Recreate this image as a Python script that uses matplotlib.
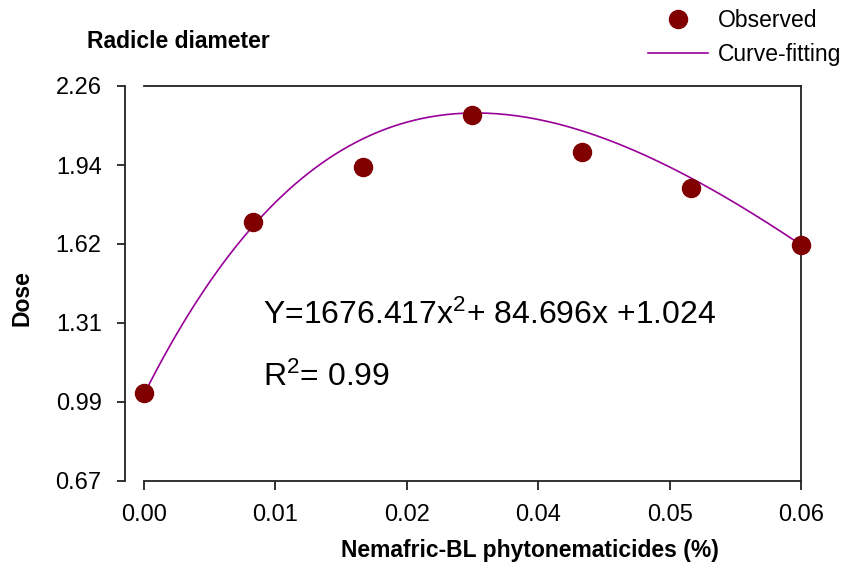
import numpy as np
import matplotlib
matplotlib.use("Agg")
import matplotlib.pyplot as plt
from matplotlib.lines import Line2D

plt.rcParams['font.family'] = ['Liberation Sans', 'DejaVu Sans']
plt.rcParams['mathtext.fontset'] = 'custom'
plt.rcParams['mathtext.rm'] = 'Liberation Sans'
plt.rcParams['mathtext.it'] = 'Liberation Sans'

# observed means
dose = [0.0, 0.01, 0.02, 0.03, 0.04, 0.05, 0.06]
observed = [1.024, 1.713, 1.934, 2.143, 1.994, 1.849, 1.620]

# samples
curve_x = [0.0, 0.005, 0.01, 0.0143, 0.02, 0.025, 0.031, 0.038, 0.045, 0.05, 0.055, 0.06]
curve_y = [1.024, 1.39, 1.713, 1.882, 2.043, 2.131, 2.147, 2.107, 1.99, 1.895, 1.761, 1.62]

x_ticklabels = ['0.00', '0.01', '0.02', '0.04', '0.05', '0.06']
y_ticklabels = ['0.67', '0.99', '1.31', '1.62', '1.94', '2.26']

dot_color = '#800000'
line_color = '#990099'
axis_color = '#222222'

fig = plt.figure(figsize=(8.45, 5.70), dpi=100)
ax = fig.add_axes([144 / 845, 1 - 481 / 570, 657 / 845, 395 / 570])

# smooth curve through the read samples
coef = np.polyfit(curve_x, curve_y, 4)
xs = np.linspace(0, 0.06, 200)
ax.plot(xs, np.polyval(coef, xs), color=line_color, lw=1.2, zorder=2)
ax.plot(dose, observed, 'o', color=dot_color, ms=13, zorder=3, clip_on=False)

ax.set_xlim(0, 0.06)
ax.set_ylim(0.67, 2.26)
ax.set_xticks(np.linspace(0, 0.06, len(x_ticklabels)))
ax.set_xticklabels(x_ticklabels)
ax.set_yticks(np.linspace(0.67, 2.26, len(y_ticklabels)))
ax.set_yticklabels(y_ticklabels)

for s in ax.spines.values():
    s.set_color(axis_color)
    s.set_linewidth(1.3)
ax.spines['left'].set_position(('outward', 13.7))
ax.tick_params(axis='both', colors=axis_color, width=1.3, labelsize=17,
               labelcolor='black')
ax.tick_params(axis='y', length=5.8, pad=11)
ax.tick_params(axis='x', length=6.5, pad=10)

fig.text(530 / 845, 1 - 550 / 570, 'Nemafric-BL phytonematicides (%)',
         fontsize=16.5, fontweight='bold', ha='center', va='center')
fig.text(22 / 845, 1 - 298 / 570, 'Dose', rotation=90, fontsize=16.5,
         fontweight='bold', ha='center', va='center')
fig.text(87 / 845, 1 - 42 / 570, 'Radicle diameter', fontsize=16.5,
         fontweight='bold', ha='left', va='center')

fig.text(263 / 845, 1 - 315 / 570, 'Y=1676.417x$^2$+ 84.696x +1.024',
         fontsize=23, ha='left', va='center')
fig.text(263 / 845, 1 - 377 / 570, 'R$^2$= 0.99',
         fontsize=23, ha='left', va='center')

handles = [Line2D([], [], ls='none', marker='o', color=dot_color, ms=13),
           Line2D([], [], color=line_color, lw=1.2)]
fig.legend(handles, ['Observed', 'Curve-fitting'], loc='upper right',
           bbox_to_anchor=(1.0, 1 - 6 / 570), frameon=False, fontsize=16.5,
           handlelength=2.6, handletextpad=0.45, labelspacing=0.45,
           borderaxespad=0.0, borderpad=0.15)

fig.savefig('out.png', dpi=100)
